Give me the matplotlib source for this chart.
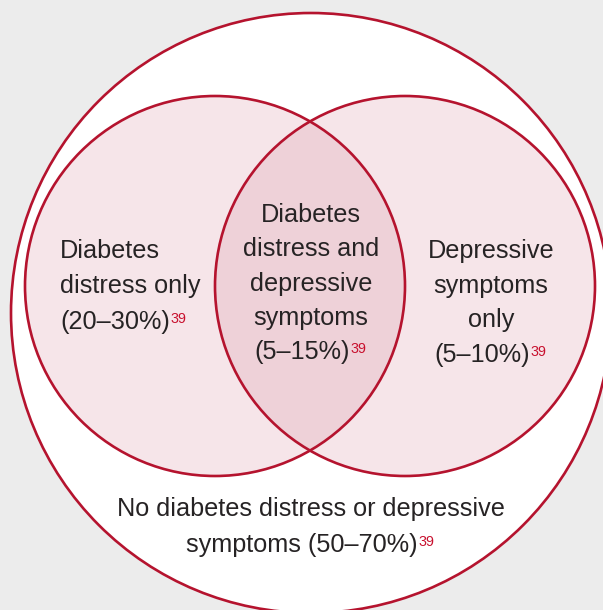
import matplotlib.pyplot as plt
from matplotlib.patches import Circle

# Venn regions: label lines and share of people (%)
left_lines = ["Diabetes", "distress only", "(20–30%)"]
mid_lines = ["Diabetes", "distress and", "depressive", "symptoms", "(5–15%)"]
right_lines = ["Depressive", "symptoms", "only", "(5–10%)"]
outer_lines = ["No diabetes distress or depressive", "symptoms (50–70%)"]
ref_note = "39"

BG = "#ececec"
EDGE = "#b5132e"
PINK = "#f6e5e9"
OVERLAP = "#eed1d8"
TXT = "#262324"
SUP = "#c8102e"
FONT = "Liberation Sans"

fig = plt.figure(figsize=(6.03, 6.10), dpi=100, facecolor=BG)
ax = fig.add_axes([0, 0, 1, 1])
ax.set_xlim(0, 603)
ax.set_ylim(610, 0)
ax.set_facecolor(BG)
ax.axis("off")

lw = 1.9
ax.add_patch(Circle((311, 313), 300, facecolor="white", edgecolor=EDGE, lw=lw, zorder=1))
left = Circle((215, 286), 190, facecolor=PINK, edgecolor="none", zorder=2)
right = Circle((405, 286), 190, facecolor=PINK, edgecolor="none", zorder=2)
ax.add_patch(left)
ax.add_patch(right)
# overlap: right circle clipped to left circle
lens = Circle((405, 286), 190, facecolor=OVERLAP, edgecolor="none", zorder=3)
ax.add_patch(lens)
lens.set_clip_path(left)
for c in [(215, 286), (405, 286)]:
    ax.add_patch(Circle(c, 190, facecolor="none", edgecolor=EDGE, lw=lw, zorder=4))

fs = 18.2


def block(lines, x, y0, dy, ha="center", sup_shift=9):
    for i, s in enumerate(lines):
        last = i == len(lines) - 1
        xx = x
        if last and s.endswith(")") and ha == "center":
            xx = x - sup_shift
        t = ax.text(xx, y0 + i * dy, s, ha=ha, va="baseline", fontsize=fs,
                    color=TXT, family=FONT, zorder=5)
        if s.endswith(")"):
            ax.annotate(ref_note, xy=(1, 1), xycoords=t, xytext=(0.5, -1.5),
                        textcoords="offset points", ha="left", va="top",
                        fontsize=10.3, color=SUP, family=FONT, zorder=5)


block(left_lines, 60, 258, 35.5, ha="left")
block(mid_lines, 311, 222, 34.3)
block(right_lines, 491, 258, 34.7)
block(outer_lines, 311, 516, 36)

fig.savefig("out.png", dpi=100, facecolor=BG)
